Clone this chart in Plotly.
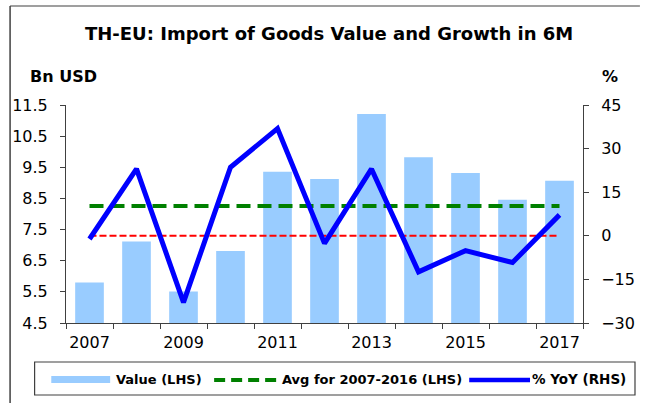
import plotly.graph_objects as go

# Thailand imports from the EU, first six months of each year
years = ["2007", "2008", "2009", "2010", "2011", "2012",
         "2013", "2014", "2015", "2016", "2017"]
value_bn_usd = [5.80, 7.12, 5.51, 6.81, 9.36, 9.12, 11.21, 9.82, 9.32, 8.46, 9.07]
yoy_pct = [-1.1, 23.0, -22.9, 23.6, 36.9, -2.6, 23.0, -12.4, -5.1, -9.2, 7.2]

# 2007-2016 average (first ten years)
avg_years = years[:10]
avg_value = sum(value_bn_usd[:10]) / len(avg_years)
avg_line = [avg_value] * len(years)
zero_line = [0] * len(years)

left_ticks = [4.5, 5.5, 6.5, 7.5, 8.5, 9.5, 10.5, 11.5]
right_ticks = [-30, -15, 0, 15, 30, 45]
x_labels = [y if int(y) % 2 == 1 else "" for y in years]

W, H = 647, 403
L, R, T, B = 62, 58, 105, 80
PW, PH = W - L - R, H - T - B


def px(x):
    return (x - L) / PW


def py(y):
    return (H - B - y) / PH


FONT = "DejaVu Sans, Arial, sans-serif"
BAR_COLOR = "#99CCFF"
GREEN = "#008000"
BLUE = "#0000FF"
RED = "#FF0000"

fig = go.Figure()
fig.add_trace(go.Bar(x=years, y=value_bn_usd, width=0.61,
                     marker=dict(color=BAR_COLOR, line=dict(width=0)),
                     name="Value (LHS)", yaxis="y"))
fig.add_trace(go.Scatter(x=years, y=avg_line, mode="lines",
                         line=dict(color=GREEN, width=4, dash="14px,7px"),
                         name="Avg for 2007-2016 (LHS)", yaxis="y"))
fig.add_trace(go.Scatter(x=years, y=zero_line, mode="lines",
                         line=dict(color=RED, width=2, dash="7px,3px"),
                         showlegend=False, yaxis="y2"))
fig.add_trace(go.Scatter(x=years, y=yoy_pct, mode="lines",
                         line=dict(color=BLUE, width=5),
                         name="% YoY (RHS)", yaxis="y2"))

axis_color = "#404040"
fig.update_layout(
    width=W, height=H, autosize=False,
    margin=dict(l=L, r=R, t=T, b=B, pad=0),
    paper_bgcolor="white", plot_bgcolor="white",
    showlegend=False,
    font=dict(family=FONT, color="black"),
    bargap=0.39,
    xaxis=dict(type="category", tickvals=years, ticktext=x_labels,
               tickson="boundaries", ticks="outside", ticklen=5,
               tickangle=0,
               tickcolor=axis_color, showline=True, linecolor=axis_color,
               linewidth=1, showgrid=False, zeroline=False,
               tickfont=dict(family=FONT, size=16), ticklabelstandoff=5,
               range=[-0.5, len(years) - 0.5]),
    yaxis=dict(range=[4.5, 11.5], tickvals=left_ticks,
               ticktext=[f"{v:.1f}" for v in left_ticks],
               ticks="outside", ticklen=5, tickcolor=axis_color,
               showline=True, linecolor=axis_color, linewidth=1,
               showgrid=False, zeroline=False,
               tickfont=dict(family=FONT, size=16), ticklabelstandoff=9),
    yaxis2=dict(range=[-30, 45], tickvals=right_ticks,
                overlaying="y", side="right",
                ticks="outside", ticklen=5, tickcolor=axis_color,
                showline=True, linecolor=axis_color, linewidth=1,
                showgrid=False, zeroline=False,
                tickfont=dict(family=FONT, size=16), ticklabelstandoff=9),
)

annotations = [
    dict(text="<b>TH-EU: Import of Goods Value and Growth in 6M</b>",
         x=px(330), y=py(33), xanchor="center", yanchor="middle",
         font=dict(family=FONT, size=18)),
    dict(text="<b>Bn USD</b>", x=px(23), y=py(76), xanchor="left",
         yanchor="middle", font=dict(family=FONT, size=16)),
    dict(text="<b>%</b>", x=px(617), y=py(76), xanchor="center",
         yanchor="middle", font=dict(family=FONT, size=16)),
    dict(text="<b>Value (LHS)</b>", x=px(111), y=py(379), xanchor="left",
         yanchor="middle", font=dict(family=FONT, size=13)),
    dict(text="<b>Avg for 2007-2016 (LHS)</b>", x=px(280), y=py(379),
         xanchor="left", yanchor="middle", font=dict(family=FONT, size=13)),
    dict(text="<b>% YoY (RHS)</b>", x=px(535), y=py(379), xanchor="left",
         yanchor="middle", font=dict(family=FONT, size=13.5)),
]
for a in annotations:
    a.update(xref="paper", yref="paper", showarrow=False)
fig.update_layout(annotations=annotations)

shapes = [
    # outer frame (top and left edges)
    dict(type="line", x0=px(5), x1=px(W), y0=py(6), y1=py(6),
         line=dict(color="#7f7f7f", width=1.5)),
    dict(type="line", x0=px(5), x1=px(5), y0=py(6), y1=py(H),
         line=dict(color="#404040", width=1.5)),
    # legend box
    dict(type="rect", x0=px(30), x1=px(642), y0=py(362), y1=py(395),
         line=dict(color="#404040", width=1.2), fillcolor="rgba(0,0,0,0)"),
    # legend swatches
    dict(type="rect", x0=px(47), x1=px(107), y0=py(376), y1=py(383),
         line=dict(width=0), fillcolor=BAR_COLOR),
    dict(type="line", x0=px(213), x1=px(277), y0=py(380), y1=py(380),
         line=dict(color=GREEN, width=4, dash="11px,6px")),
    dict(type="line", x0=px(473), x1=px(535), y0=py(380), y1=py(380),
         line=dict(color=BLUE, width=4.5)),
]
for s in shapes:
    s.update(xref="paper", yref="paper")
fig.update_layout(shapes=shapes)

fig.write_html("out.html")
